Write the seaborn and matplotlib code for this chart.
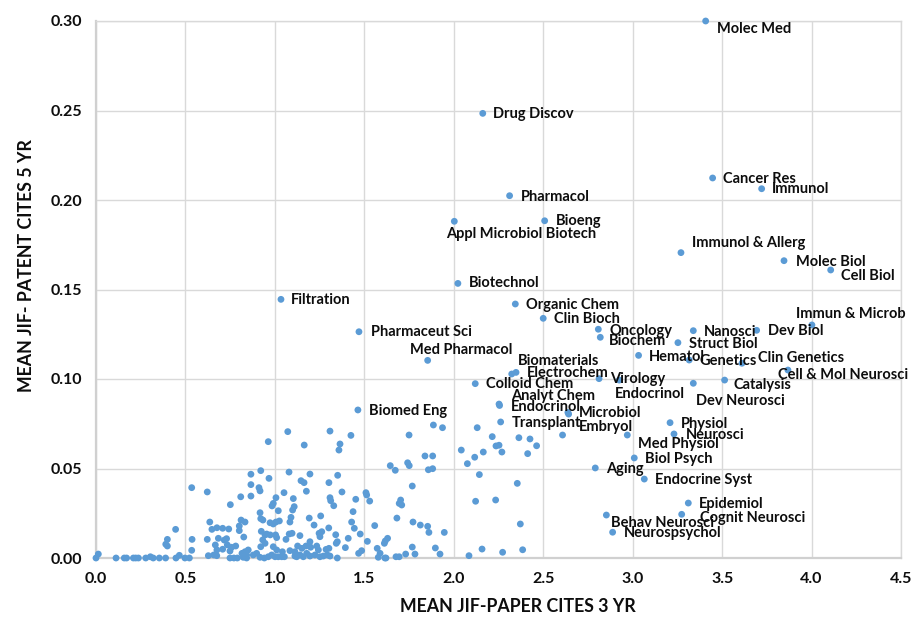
import matplotlib
matplotlib.use("Agg")
import matplotlib.pyplot as plt
from matplotlib.ticker import FormatStrFormatter
import seaborn as sns
import pandas as pd

# ---------------- data ----------------
label_names = [
    "Molec Med", "Drug Discov", "Cancer Res", "Immunol", "Pharmacol",
    "Appl Microbiol Biotech", "Bioeng", "Immunol & Allerg", "Molec Biol", "Cell Biol",
    "Biotechnol", "Filtration", "Organic Chem", "Clin Bioch", "Immun & Microb",
    "Oncology", "Nanosci", "Dev Biol", "Pharmaceut Sci", "Biochem",
    "Struct Biol", "Hematol", "Med Pharmacol", "Genetics", "Clin Genetics",
    "Cell & Mol Neurosci", "Electrochem", "Biomaterials", "Virology", "Endocrinol",
    "Catalysis", "Dev Neurosci", "Colloid Chem", "Analyt Chem", "Endocrinol",
    "Biomed Eng", "Microbiol", "Transplant", "Physiol", "Neurosci",
    "Embryol", "Med Physiol", "Biol Psych", "Aging", "Endocrine Syst",
    "Epidemiol", "Cognit Neurosci", "Behav Neurosci", "Neurospsychol",
]
label_x = [
    3.408, 2.162, 3.447, 3.721, 2.312,
    2.003, 2.508, 3.270, 3.846, 4.107,
    2.023, 1.034, 2.344, 2.500, 4.002,
    2.808, 3.339, 3.693, 1.470, 2.819,
    3.253, 3.033, 1.854, 3.316, 3.611,
    3.868, 2.348, 2.324, 2.812, 2.925,
    3.514, 3.339, 2.120, 2.253, 2.256,
    1.464, 2.642, 2.262, 3.209, 3.231,
    2.608, 2.970, 3.009, 2.791, 3.065,
    3.311, 3.274, 2.853, 2.888,
]
label_y = [
    0.3000, 0.2484, 0.2123, 0.2063, 0.2024,
    0.1881, 0.1884, 0.1706, 0.1661, 0.1609,
    0.1534, 0.1445, 0.1419, 0.1339, 0.1302,
    0.1278, 0.1270, 0.1272, 0.1264, 0.1233,
    0.1203, 0.1132, 0.1104, 0.1106, 0.1088,
    0.1050, 0.1037, 0.1028, 0.1002, 0.0994,
    0.0994, 0.0976, 0.0974, 0.0860, 0.0852,
    0.0827, 0.0804, 0.0760, 0.0756, 0.0693,
    0.0687, 0.0687, 0.0559, 0.0503, 0.0441,
    0.0307, 0.0244, 0.0240, 0.0144,
]

other_x = [
    # lowest cluster
    0.000, 0.112, 0.158, 0.171, 0.209, 0.222, 0.237, 0.278, 0.320, 0.354,
    0.389, 0.447, 0.497, 0.522, 0.749, 0.771, 0.790, 0.842,
    0.013, 0.304, 0.466, 0.445, 0.399, 0.390, 0.399, 0.535, 0.622, 0.537,
    0.535, 0.622, 0.628, 0.636, 0.648, 0.676, 0.708, 0.742, 0.751, 0.809,
    0.684, 0.667, 0.676, 0.708, 0.658, 0.675, 0.717, 0.730, 0.734, 0.758,
    0.749, 0.781, 0.801, 0.811, 0.833, 0.801, 0.826, 0.816, 0.833, 0.842,
    0.823, 0.851,
    # middle cluster
    0.963, 1.164, 1.364, 1.358, 0.866, 0.921, 0.967, 1.079, 1.196, 1.146,
    1.163, 1.351, 1.302, 1.645, 1.673, 0.866, 0.911, 0.917, 0.866, 1.051,
    1.176, 1.375, 1.509, 1.513, 1.530, 1.452, 1.308, 1.312, 1.329, 1.006,
    0.991, 0.984, 1.103, 1.108, 1.099, 1.019, 0.917, 0.921, 0.933, 0.973,
    0.991, 1.006, 1.025, 1.090, 1.084, 1.192, 1.256, 1.219, 1.301, 1.437,
    1.429, 1.444, 1.477, 1.558, 1.682, 1.695, 0.924, 0.945, 0.954, 0.974,
    1.004, 1.010, 1.080, 1.096, 1.062, 1.140, 1.196, 1.247, 1.252, 1.262,
    1.340, 1.349, 1.410, 1.517, 1.617, 1.630, 1.612, 0.932, 0.921, 0.945,
    0.991, 1.010, 1.042, 1.084, 1.112, 1.127, 1.151, 1.174, 1.200, 1.234,
    1.243, 1.286, 1.302, 1.343, 1.394, 1.485, 1.468, 1.572, 1.588, 1.615,
    1.677, 0.879, 0.898, 0.917, 0.941, 0.963, 0.982, 1.001, 1.019, 1.038,
    1.053, 1.112, 1.122, 1.140, 1.159, 1.178, 1.196, 1.224, 1.252, 1.271,
    1.293, 1.308, 1.349, 1.578, 1.621, 1.695, 1.072, 1.308, 1.425,
    # right cluster
    1.886, 1.937, 1.750, 2.131, 2.215, 2.364, 2.426, 2.463, 2.042, 2.076,
    2.117, 2.165, 2.236, 2.253, 2.269, 2.413, 1.839, 1.882, 1.742, 1.751,
    1.858, 1.882, 2.143, 2.355, 1.768, 1.703, 1.709, 2.122, 2.234, 1.772,
    1.813, 1.854, 1.861, 1.947, 2.372, 1.768, 1.731, 1.783, 1.897, 1.923,
    2.085, 2.158, 2.273, 2.385, 2.638,
]
other_y = [
    0.0000, 0.0000, 0.0000, 0.0000, 0.0000, 0.0000, 0.0000, 0.0000, 0.0000, 0.0000,
    0.0000, 0.0000, 0.0000, 0.0000, 0.0000, 0.0000, 0.0000, 0.0000,
    0.0022, 0.0007, 0.0015, 0.0160, 0.0104, 0.0077, 0.0067, 0.0393, 0.0369, 0.0104,
    0.0043, 0.0104, 0.0013, 0.0201, 0.0160, 0.0169, 0.0166, 0.0162, 0.0298, 0.0342,
    0.0110, 0.0073, 0.0045, 0.0049, 0.0017, 0.0013, 0.0100, 0.0108, 0.0073, 0.0060,
    0.0039, 0.0067, 0.0179, 0.0212, 0.0201, 0.0153, 0.0117, 0.0026, 0.0035, 0.0017,
    0.0004, 0.0045,
    0.0650, 0.0631, 0.0637, 0.0603, 0.0468, 0.0488, 0.0445, 0.0480, 0.0469, 0.0432,
    0.0421, 0.0462, 0.0421, 0.0516, 0.0490, 0.0410, 0.0393, 0.0375, 0.0346, 0.0365,
    0.0373, 0.0369, 0.0365, 0.0352, 0.0318, 0.0328, 0.0337, 0.0320, 0.0292, 0.0337,
    0.0305, 0.0291, 0.0332, 0.0287, 0.0268, 0.0264, 0.0253, 0.0220, 0.0212, 0.0197,
    0.0190, 0.0201, 0.0207, 0.0227, 0.0201, 0.0223, 0.0235, 0.0184, 0.0168, 0.0259,
    0.0201, 0.0166, 0.0134, 0.0181, 0.0223, 0.0305, 0.0149, 0.0129, 0.0134, 0.0129,
    0.0129, 0.0114, 0.0134, 0.0138, 0.0104, 0.0125, 0.0091, 0.0138, 0.0119, 0.0147,
    0.0130, 0.0091, 0.0110, 0.0093, 0.0095, 0.0110, 0.0082, 0.0101, 0.0063, 0.0082,
    0.0063, 0.0045, 0.0035, 0.0041, 0.0035, 0.0067, 0.0054, 0.0067, 0.0060, 0.0067,
    0.0045, 0.0048, 0.0054, 0.0082, 0.0058, 0.0041, 0.0026, 0.0054, 0.0026, 0.0000,
    0.0007, 0.0017, 0.0026, 0.0004, 0.0000, 0.0007, 0.0017, 0.0007, 0.0007, 0.0007,
    0.0007, 0.0011, 0.0007, 0.0017, 0.0007, 0.0026, 0.0011, 0.0017, 0.0007, 0.0011,
    0.0017, 0.0011, 0.0000, 0.0004, 0.0000, 0.0007, 0.0706, 0.0709, 0.0685,
    0.0743, 0.0728, 0.0687, 0.0728, 0.0678, 0.0672, 0.0665, 0.0627, 0.0603, 0.0527,
    0.0563, 0.0592, 0.0626, 0.0630, 0.0592, 0.0583, 0.0570, 0.0570, 0.0532, 0.0516,
    0.0493, 0.0499, 0.0466, 0.0417, 0.0402, 0.0324, 0.0296, 0.0317, 0.0324, 0.0201,
    0.0184, 0.0177, 0.0143, 0.0143, 0.0190, 0.0061, 0.0022, 0.0022, 0.0056, 0.0022,
    0.0013, 0.0050, 0.0032, 0.0046, 0.0813,
]

x_ticks = [0.0, 0.5, 1.0, 1.5, 2.0, 2.5, 3.0, 3.5, 4.0, 4.5]
y_ticks = [0.00, 0.05, 0.10, 0.15, 0.20, 0.25, 0.30]
x_title = "MEAN JIF-PAPER CITES 3 YR"
y_title = "MEAN JIF- PATENT CITES 5 YR"

# label offsets in pixels (dx to text left edge, dy downwards to text centre)
label_offsets_px = [
    (11, 7.6), (10.6, 1), (10.6, 1), (10.6, 0.6), (11, 1.6),
    (-8.3, 13), (11, 0.3), (11.3, -10), (11.7, 1.6), (10.3, 6),
    (11, 0), (9.7, 1), (10.7, 1.3), (10.7, 1), (-16, -11),
    (10.7, 1.4), (11, 1.3), (11, 0.4), (11.7, 0.6), (8.4, 4),
    (11.3, 1.6), (10.6, 1.4), (-17.7, -10), (10.7, 0.7), (16.3, -5.3),
    (-10.3, 5), (10.7, 0.4), (6, -13.3), (10.7, 0.7), (-4, 14),
    (8.6, 5), (2.4, 18), (10.7, 0.6), (12, -7.7), (11, 1.7),
    (11, 1.3), (10.3, -1), (11.6, 1.3), (11, 1), (11.7, 1),
    (16.6, -7.7), (11, 9), (10.7, 1.3), (10.7, 1.3), (10.7, 1),
    (10.4, 1), (18.3, 3.7), (4.7, 7.7), (11.3, 1),
]

# ---------------- plot ----------------
sns.set_style("white")
plt.rcParams["font.family"] = ["Lato", "DejaVu Sans"]

DPI = 100
fig = plt.figure(figsize=(9.15, 6.22), dpi=DPI)
ax = fig.add_axes([96 / 915, 1 - 558 / 622, 805 / 915, 537 / 622])

df = pd.DataFrame({
    "x": other_x + label_x,
    "y": other_y + label_y,
})
sns.scatterplot(data=df, x="x", y="y", ax=ax, color="#5B9BD5", s=24,
                linewidth=0, edgecolor="none", clip_on=False, zorder=3)

px2pt = 72.0 / DPI
for name, xv, yv, (dx, dy) in zip(label_names, label_x, label_y, label_offsets_px):
    ax.annotate(name, (xv, yv), xytext=(dx * px2pt, -dy * px2pt),
                textcoords="offset points", ha="left", va="center",
                fontsize=10.5, fontweight="bold", color="#0d0d0d", zorder=4)

ax.set_xlim(0, 4.5)
ax.set_ylim(0, 0.30)
ax.set_xticks(x_ticks)
ax.set_yticks(y_ticks)
ax.xaxis.set_major_formatter(FormatStrFormatter("%.1f"))
ax.yaxis.set_major_formatter(FormatStrFormatter("%.2f"))
ax.grid(True, color="#D9D9D9", linewidth=1.0)
ax.set_axisbelow(True)
for side in ["top", "right"]:
    ax.spines[side].set_visible(True)
    ax.spines[side].set_color("#D9D9D9")
    ax.spines[side].set_linewidth(1.0)
for side in ["left", "bottom"]:
    ax.spines[side].set_color("#D0D0D0")
    ax.spines[side].set_linewidth(1.6)
ax.tick_params(axis="both", length=0, labelsize=11.5, colors="#0d0d0d", pad=10)
for lab in ax.get_xticklabels() + ax.get_yticklabels():
    lab.set_fontweight("bold")

ax.set_xlabel(x_title, fontsize=12.8, fontweight="bold", color="#0d0d0d")
ax.set_ylabel(y_title, fontsize=12.8, fontweight="bold", color="#0d0d0d")
ax.xaxis.set_label_coords((518 - 96) / 805, (558 - 607) / 537)
ax.xaxis.label.set_verticalalignment("center")
ax.yaxis.set_label_coords((27 - 96) / 805, (558 - 266) / 537)
ax.yaxis.label.set_verticalalignment("center")

fig.savefig("out.png", dpi=DPI)
